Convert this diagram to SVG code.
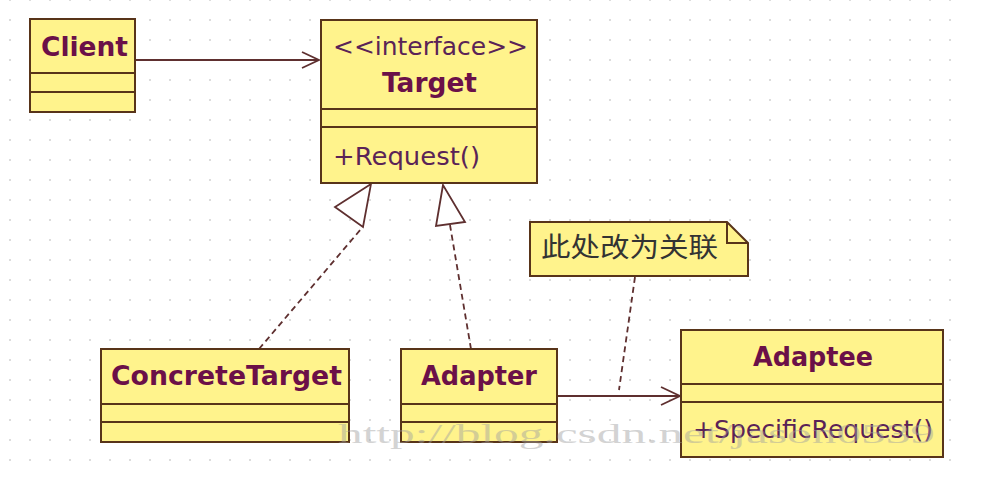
<svg xmlns="http://www.w3.org/2000/svg" width="997" height="482" viewBox="0 0 997 482">
  <defs>
    <pattern id="grid" patternUnits="userSpaceOnUse" x="0" y="10" width="20" height="20">
      <circle cx="10" cy="10" r="1.1" fill="#d4d4d4"/>
    </pattern>
    <style>
      .box { fill: #fff38c; stroke: #583419; stroke-width: 2; }
      .sep { stroke: #583419; stroke-width: 2; fill: none; }
      .name { font-family: "DejaVu Sans", "Liberation Sans", sans-serif; font-weight: bold; font-size: 26px; fill: #6b1048; }
      .plain { font-family: "DejaVu Sans", "Liberation Sans", sans-serif; font-size: 25px; fill: #5a2357; }
      .note { font-family: "Noto Sans CJK SC", sans-serif; font-size: 27px; fill: #333333; }
      .conn { stroke: #5e2f2f; stroke-width: 1.8; fill: none; }
      .dash { stroke-dasharray: 6 4; }
      .head { stroke: #5e2f2f; stroke-width: 1.8; fill: none; }
      .tri { stroke: #5e2f2f; stroke-width: 1.8; fill: #ffffff; }
      .wm { font-family: "Liberation Serif", serif; font-size: 28px; fill: #a0a0a0; opacity: 0.45; }
    </style>
  </defs>
  <rect x="0" y="0" width="997" height="482" fill="#ffffff"/>
  <rect x="0" y="0" width="962" height="470" fill="url(#grid)"/>

  <g id="connectors">
    <line class="conn" x1="135" y1="60" x2="319" y2="60"/>
    <polyline class="head" points="302,52 319,60 302,68"/>
    <line class="conn dash" x1="259" y1="349" x2="361" y2="229"/>
    <polygon class="tri" points="371,184 335,207 363,227"/>
    <line class="conn dash" x1="471" y1="349" x2="450" y2="225"/>
    <polygon class="tri" points="443,185 436,226 465,222"/>
    <line class="conn" x1="557" y1="396" x2="680" y2="396"/>
    <polyline class="head" points="661,387 680,396 661,405"/>
    <line class="conn dash" x1="635" y1="277" x2="619" y2="390"/>
  </g>

  <g id="client">
    <rect class="box" x="30" y="19" width="105" height="93"/>
    <line class="sep" x1="30" y1="73" x2="135" y2="73"/>
    <line class="sep" x1="30" y1="92" x2="135" y2="92"/>
    <text class="name" x="41" y="56" textLength="87" lengthAdjust="spacingAndGlyphs">Client</text>
  </g>

  <g id="target">
    <rect class="box" x="321" y="20" width="216" height="163"/>
    <line class="sep" x1="321" y1="109" x2="537" y2="109"/>
    <line class="sep" x1="321" y1="127" x2="537" y2="127"/>
    <text class="plain" x="333" y="55" textLength="195" lengthAdjust="spacingAndGlyphs">&lt;&lt;interface&gt;&gt;</text>
    <text class="name" x="382" y="92" textLength="95" lengthAdjust="spacingAndGlyphs">Target</text>
    <text class="plain" x="333" y="165" textLength="147" lengthAdjust="spacingAndGlyphs">+Request()</text>
  </g>

  <g id="concretetarget">
    <rect class="box" x="101" y="349" width="248" height="93"/>
    <line class="sep" x1="101" y1="404" x2="349" y2="404"/>
    <line class="sep" x1="101" y1="422" x2="349" y2="422"/>
    <text class="name" x="111" y="385" textLength="231" lengthAdjust="spacingAndGlyphs">ConcreteTarget</text>
  </g>

  <g id="adapter">
    <rect class="box" x="401" y="349" width="156" height="93"/>
    <line class="sep" x1="401" y1="404" x2="557" y2="404"/>
    <line class="sep" x1="401" y1="422" x2="557" y2="422"/>
    <text class="name" x="421" y="385" textLength="116" lengthAdjust="spacingAndGlyphs">Adapter</text>
  </g>

  <g id="adaptee">
    <rect class="box" x="681" y="330" width="262" height="127"/>
    <line class="sep" x1="681" y1="384" x2="943" y2="384"/>
    <line class="sep" x1="681" y1="402" x2="943" y2="402"/>
    <text class="name" x="753" y="366" textLength="120" lengthAdjust="spacingAndGlyphs">Adaptee</text>
    <text class="plain" x="693" y="438" textLength="240" lengthAdjust="spacingAndGlyphs">+SpecificRequest()</text>
  </g>

  <g id="note">
    <path class="box" d="M530,222 H727 L748,243 V276 H530 Z"/>
    <path class="sep" d="M727,222 V243 H748"/>
    <text class="note" x="541" y="257" textLength="177" lengthAdjust="spacingAndGlyphs">此处改为关联</text>
  </g>

  <text class="wm" x="338" y="443" textLength="597" lengthAdjust="spacingAndGlyphs">http://blog.csdn.net/jason0539</text>
</svg>
